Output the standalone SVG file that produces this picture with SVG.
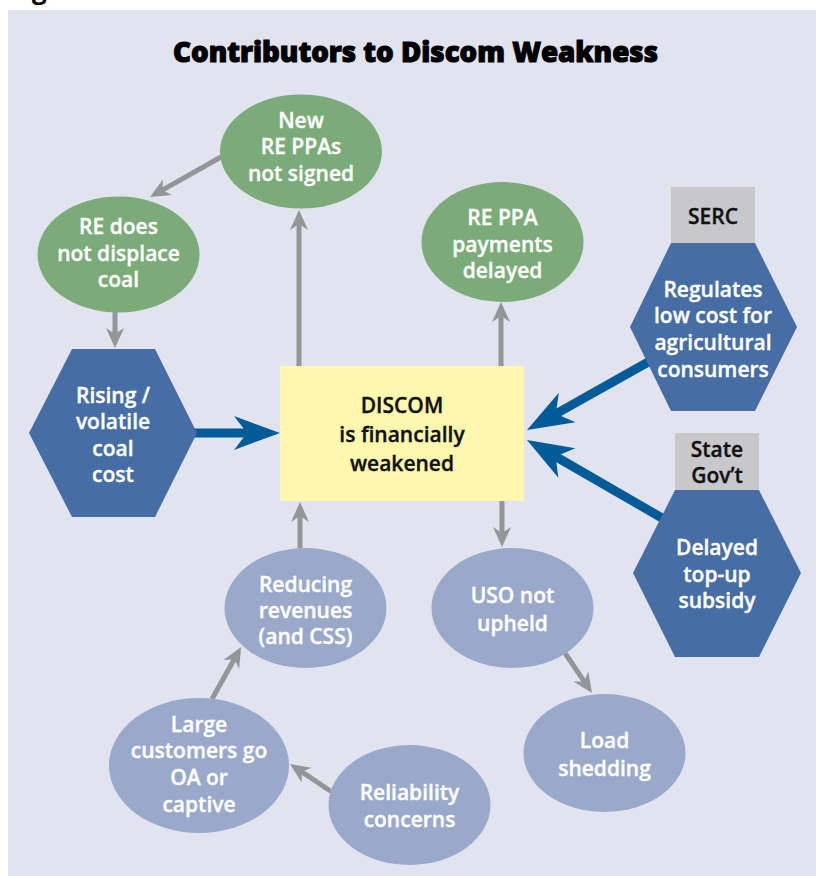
<svg xmlns="http://www.w3.org/2000/svg" width="816" height="876" viewBox="0 0 816 876">
  <style>
    .bg { fill: #e1e3ef; }
    .title { font-family: "Open Sans", "Liberation Sans", sans-serif; font-weight: 800; font-size: 29px; fill: #000; stroke: #000; stroke-width: 1.1px; }
    .lbl { font-family: "Open Sans", "Liberation Sans", sans-serif; font-weight: 600; font-size: 21px; text-anchor: middle; fill: #fff; stroke: #fff; stroke-width: 0.35px; }
    .dark { fill: #111; stroke: #111; }
    .green { fill: #7aab79; }
    .pale { fill: #9aa9ca; }
    .hex { fill: #476ea4; }
    .tag { fill: #c8c8ca; }
    .core { fill: #fef8ae; }
    .g-line { stroke: #939598; stroke-width: 5; fill: none; }
    .b-line { stroke: #005b98; stroke-width: 9; fill: none; }
  </style>
  <defs>
    <marker id="headGray" markerUnits="userSpaceOnUse" viewBox="-2 -12 26 24" markerWidth="26" markerHeight="24" refX="8" refY="0" orient="auto">
      <path d="M0,-9 L20,0 L0,9 L6,0 Z" fill="#939598"/>
    </marker>
    <marker id="headBlue" markerUnits="userSpaceOnUse" viewBox="-2 -20 50 40" markerWidth="50" markerHeight="40" refX="16" refY="0" orient="auto">
      <path d="M0,-17 L46,0 L0,17 L13,0 Z" fill="#005b98"/>
    </marker>
  </defs>

  <!-- page and panel -->
  <rect x="0" y="0" width="816" height="876" fill="#fff"/>
  <text x="32" y="-1" font-family="Open Sans, sans-serif" font-weight="700" font-size="26" fill="#000">g</text>
  <rect class="bg" x="8" y="10" width="808" height="866"/>

  <text class="title" x="173" y="62" textLength="485" lengthAdjust="spacingAndGlyphs">Contributors to Discom Weakness</text>

  <!-- connectors -->
  <g id="connectors">
    <line class="g-line" x1="221" y1="157" x2="160.5" y2="191.1" marker-end="url(#headGray)"/>
    <line class="g-line" x1="115" y1="312" x2="115" y2="336" marker-end="url(#headGray)"/>
    <line class="g-line" x1="299" y1="366" x2="299" y2="222" marker-end="url(#headGray)"/>
    <line class="g-line" x1="501" y1="366" x2="501" y2="314" marker-end="url(#headGray)"/>
    <line class="g-line" x1="502" y1="501" x2="502" y2="535" marker-end="url(#headGray)"/>
    <line class="g-line" x1="565" y1="653" x2="585.3" y2="683.1" marker-end="url(#headGray)"/>
    <line class="g-line" x1="300" y1="548" x2="300" y2="514" marker-end="url(#headGray)"/>
    <line class="g-line" x1="212" y1="699" x2="235.2" y2="657.5" marker-end="url(#headGray)"/>
    <line class="g-line" x1="332" y1="792" x2="300" y2="770.7" marker-end="url(#headGray)"/>
    <line class="b-line" x1="190" y1="433" x2="250" y2="433" marker-end="url(#headBlue)"/>
    <line class="b-line" x1="650" y1="361" x2="553.2" y2="415.3" marker-end="url(#headBlue)"/>
    <line class="b-line" x1="662" y1="518" x2="553" y2="455" marker-end="url(#headBlue)"/>
  </g>

  <!-- green outcomes -->
  <g id="new-re-ppas">
    <ellipse class="green" cx="301" cy="151.5" rx="81" ry="57"/>
    <text class="lbl" x="301" y="128">New</text>
    <text class="lbl" x="301" y="154">RE PPAs</text>
    <text class="lbl" x="301" y="181">not signed</text>
  </g>
  <g id="re-not-displace">
    <ellipse class="green" cx="118.5" cy="254.5" rx="81" ry="58"/>
    <text class="lbl" x="118.5" y="234">RE does</text>
    <text class="lbl" x="118.5" y="261">not displace</text>
    <text class="lbl" x="118.5" y="287">coal</text>
  </g>
  <g id="re-ppa-payments">
    <ellipse class="green" cx="502.5" cy="242" rx="81" ry="60"/>
    <text class="lbl" x="502.5" y="225">RE PPA</text>
    <text class="lbl" x="502.5" y="252">payments</text>
    <text class="lbl" x="502.5" y="278">delayed</text>
  </g>

  <!-- drivers -->
  <g id="coal-cost">
    <polygon class="hex" points="29,433 72,349 155,349 197,433 155,517 72,517"/>
    <text class="lbl" x="113" y="403">Rising /</text>
    <text class="lbl" x="113" y="429">volatile</text>
    <text class="lbl" x="113" y="456">coal</text>
    <text class="lbl" x="113" y="482">cost</text>
  </g>
  <g id="serc">
    <rect class="tag" x="671" y="187" width="84" height="56"/>
    <text class="lbl dark" x="713" y="224">SERC</text>
    <polygon class="hex" points="630,327 671,243 755,243 797,327 755,411 671,411"/>
    <text class="lbl" x="713" y="297">Regulates</text>
    <text class="lbl" x="713" y="323">low cost for</text>
    <text class="lbl" x="713" y="350">agricultural</text>
    <text class="lbl" x="713" y="377">consumers</text>
  </g>
  <g id="state-govt">
    <rect class="tag" x="675" y="433" width="84" height="57"/>
    <text class="lbl dark" x="717" y="457">State</text>
    <text class="lbl dark" x="717" y="483">Gov’t</text>
    <polygon class="hex" points="633,573 675,490 759,490 801,573 759,657 675,657"/>
    <text class="lbl" x="717" y="555">Delayed</text>
    <text class="lbl" x="717" y="582">top-up</text>
    <text class="lbl" x="717" y="608">subsidy</text>
  </g>

  <!-- central node -->
  <g id="discom">
    <rect class="core" x="280" y="366" width="244" height="135"/>
    <text class="lbl dark" x="402" y="413">DISCOM</text>
    <text class="lbl dark" x="402" y="442">is financially</text>
    <text class="lbl dark" x="402" y="471">weakened</text>
  </g>

  <!-- downstream effects -->
  <g id="uso">
    <ellipse class="pale" cx="512.5" cy="608" rx="81" ry="60"/>
    <text class="lbl" x="512.5" y="603">USO not</text>
    <text class="lbl" x="512.5" y="631">upheld</text>
  </g>
  <g id="load-shedding">
    <ellipse class="pale" cx="604.5" cy="753" rx="81" ry="59"/>
    <text class="lbl" x="604.5" y="748">Load</text>
    <text class="lbl" x="604.5" y="776">shedding</text>
  </g>
  <g id="reducing-revenues">
    <ellipse class="pale" cx="305.5" cy="608" rx="81" ry="60"/>
    <text class="lbl" x="305.5" y="592">Reducing</text>
    <text class="lbl" x="305.5" y="618">revenues</text>
    <text class="lbl" x="305.5" y="644">(and CSS)</text>
  </g>
  <g id="large-customers">
    <ellipse class="pale" cx="199" cy="765.5" rx="90" ry="67.5"/>
    <text class="lbl" x="199" y="732">Large</text>
    <text class="lbl" x="199" y="758">customers go</text>
    <text class="lbl" x="199" y="785">OA or</text>
    <text class="lbl" x="199" y="812">captive</text>
  </g>
  <g id="reliability">
    <ellipse class="pale" cx="409.5" cy="805" rx="81" ry="60"/>
    <text class="lbl" x="409.5" y="800">Reliability</text>
    <text class="lbl" x="409.5" y="827">concerns</text>
  </g>
</svg>
